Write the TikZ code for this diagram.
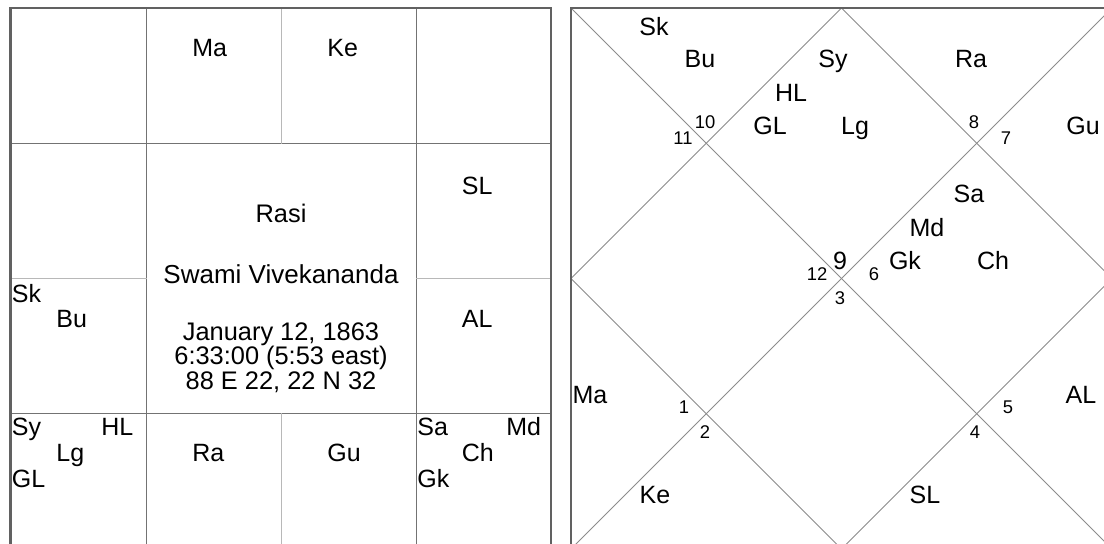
\documentclass[tikz,border=0pt]{standalone}
\usepackage{fontspec}
\setmainfont{Liberation Sans}
\usepackage{tikz}

\begin{document}
\begin{tikzpicture}[x=0.5pt,y=-0.5pt,line cap=rect,
  frame/.style={draw=black!62,line width=1.3pt},
  cellline/.style={draw=black!55,line width=0.5pt},
  faintline/.style={draw=black!28,line width=0.5pt},
  diagline/.style={draw=black!45,line width=0.4pt},
  pl/.style={inner sep=0pt,text height=8.9pt,text depth=0pt,font=\fontsize{12.5}{14}\selectfont},
  plw/.style={pl,anchor=west},
  hnum/.style={inner sep=0pt,text height=6.6pt,text depth=0pt,font=\fontsize{9.2}{11}\selectfont},
  info/.style={inner sep=0pt,anchor=base,font=\fontsize{12.7}{14}\selectfont}]
\useasboundingbox (0,0) rectangle (1104,544);
\clip (0,0) rectangle (1104,544);
\fill[white] (0,0) rectangle (1104,544);

\coordinate (ra) at (10.5,8);
\coordinate (rb) at (551,549);
\draw[cellline] (146,8) -- (146,549);
\draw[cellline] (416,8) -- (416,549);
\draw[cellline] (10.5,143.5) -- (551,143.5);
\draw[cellline] (10.5,414) -- (551,414);
\draw[faintline] (281,8) -- (281,143.5);
\draw[faintline] (281,414) -- (281,549);
\draw[faintline] (10.5,279) -- (146,279);
\draw[faintline] (416,279) -- (551,279);
\draw[frame] (ra) rectangle (rb);

\node[plw] (sMa) at (192,48) {Ma};
\node[plw] (sKe) at (327,48) {Ke};
\node[plw] (sSL) at (461.5,186) {SL};
\node[plw] (sSk) at (11.5,294) {Sk};
\node[plw] (sBu) at (56,319) {Bu};
\node[plw] (sAL) at (461.5,319) {AL};
\node[plw] (sSy) at (11.5,427) {Sy};
\node[plw] (sHL) at (101,427) {HL};
\node[plw] (sLg) at (56,453) {Lg};
\node[plw] (sGL) at (11.5,479) {GL};
\node[plw] (sRa) at (192,453) {Ra};
\node[plw] (sGu) at (327,453) {Gu};
\node[plw] (sSa) at (417,427) {Sa};
\node[plw] (sMd) at (506,427) {Md};
\node[plw] (sCh) at (461.5,453) {Ch};
\node[plw] (sGk) at (417,479) {Gk};

\node[info,font=\fontsize{12.7}{14}\selectfont] (rasi) at (281,223) {Rasi};
\node[info,font=\fontsize{13}{15}\selectfont] (name) at (281,284) {Swami Vivekananda};
\node[info] (date) at (281,341) {January 12, 1863};
\node[info] (time) at (281,365) {6:33:00 (5:53 east)};
\node[info] (place) at (281,390) {88 E 22, 22 N 32};

\coordinate (tl) at (571,8);
\coordinate (tr) at (1112,8);
\coordinate (bl) at (571,549);
\coordinate (br) at (1112,549);
\coordinate (top) at (841.5,8);
\coordinate (rgt) at (1112,278.5);
\coordinate (bot) at (841.5,549);
\coordinate (lft) at (571,278.5);
\draw[diagline] (tl) -- (br);
\draw[diagline] (tr) -- (bl);
\draw[diagline] (top) -- (rgt) -- (bot) -- (lft) -- cycle;
\draw[frame] (tl) rectangle (br);

\node[pl] (nSk) at (654,26.5) {Sk};
\node[pl] (nBu) at (700,59) {Bu};
\node[pl] (nSy) at (833,59) {Sy};
\node[pl] (nRa) at (971,59) {Ra};
\node[pl] (nHL) at (791,93) {HL};
\node[pl] (nGL) at (770,126) {GL};
\node[pl] (nLg) at (855,126) {Lg};
\node[pl] (nGu) at (1083,126) {Gu};
\node[pl] (nSa) at (969,194) {Sa};
\node[pl] (nMd) at (927,228) {Md};
\node[pl] (nGk) at (905,261) {Gk};
\node[pl] (nCh) at (993,261) {Ch};
\node[pl] (nMa) at (590,395) {Ma};
\node[pl] (nAL) at (1081,395) {AL};
\node[pl] (nKe) at (655,495) {Ke};
\node[pl] (nSL) at (925,495) {SL};

\node[hnum] (h10) at (705,122) {10};
\node[hnum] (h11) at (683,138) {11};
\node[hnum] (h8) at (974,122) {8};
\node[hnum] (h7) at (1006,138) {7};
\node[hnum,text height=9pt,font=\fontsize{12.5}{14}\selectfont] (h9) at (840,261) {9};
\node[hnum] (h12) at (817,274) {12};
\node[hnum] (h6) at (874,274) {6};
\node[hnum] (h3) at (840,298) {3};
\node[hnum] (h1) at (684,407) {1};
\node[hnum] (h2) at (705,432) {2};
\node[hnum] (h5) at (1008,407) {5};
\node[hnum] (h4) at (975,432) {4};
\end{tikzpicture}
\end{document}
